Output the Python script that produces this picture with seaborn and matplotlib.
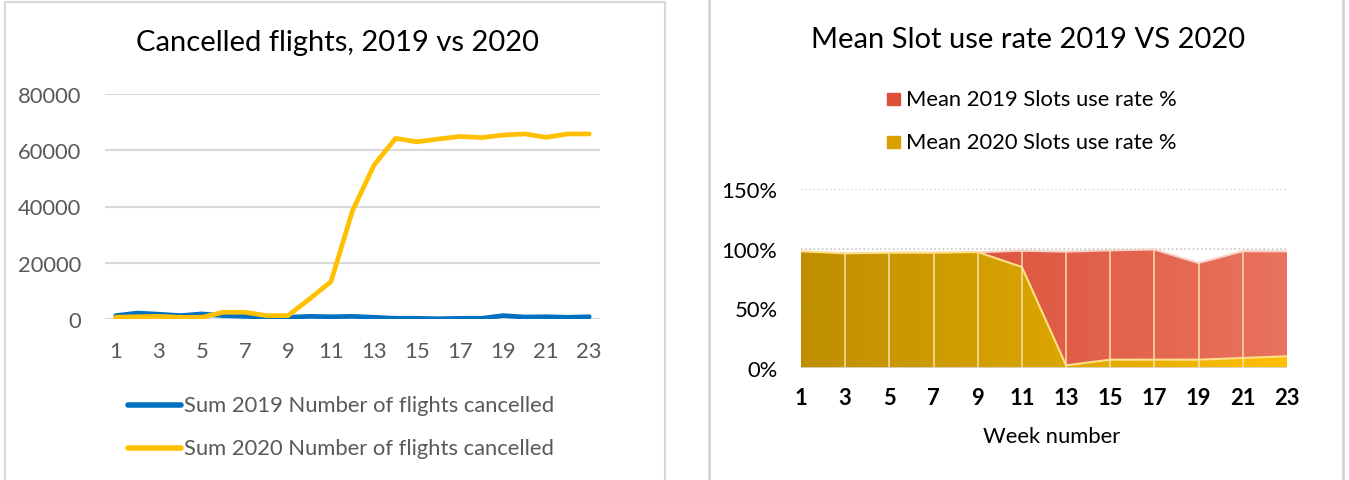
"""
Cancelled flights and slot use rate, 2019 vs 2020 (two Excel-style panels).
"""
import matplotlib.pyplot as plt
import numpy as np
import pandas as pd
import seaborn as sns
from matplotlib.colors import LinearSegmentedColormap
from matplotlib.patches import Rectangle
from matplotlib.ticker import FuncFormatter

# ---- data -------------------------------------------------------------
weeks = list(range(1, 24))
cancel_2019 = [1200, 2100, 1700, 1200, 1800, 1200, 950, 600, 600, 950, 800,
               950, 600, 240, 240, 100, 240, 240, 1200, 700, 800, 600, 800]
cancel_2020 = [600, 800, 950, 600, 600, 2400, 2400, 1200, 1200, 7100, 13300,
               38500, 54700, 64200, 63000, 64000, 64900, 64500, 65400, 65800,
               64600, 65800, 65800]

slot_weeks = [1, 3, 5, 7, 9, 11, 13, 15, 17, 19, 21, 23]
slot_2019 = [97.5, 96.0, 96.5, 96.5, 97.0, 98.3, 97.5, 98.6, 99.3, 88.0, 97.9, 97.8]
slot_2020 = [97.8, 96.1, 96.6, 96.6, 97.2, 84.6, 2.2, 7.0, 7.0, 7.0, 8.4, 9.8]

left_title = "Cancelled flights, 2019 vs 2020"
right_title = "Mean Slot use rate 2019 VS 2020"
left_labels = ["Sum 2019 Number of flights cancelled",
               "Sum 2020 Number of flights cancelled"]
right_labels = ["Mean 2019 Slots use rate %", "Mean 2020 Slots use rate %"]

sns.set_style("white")
plt.rcParams["font.family"] = ["Lato", "DejaVu Sans"]

W, H = 1349, 481
fig = plt.figure(figsize=(W / 100, H / 100), dpi=100)


def fx(px):
    return px / W


def fy(py):
    return 1 - py / H


# panel borders
border = "#D9D9D9"
fig.add_artist(Rectangle((fx(5), fy(490)), fx(660), fy(3) - fy(490),
                         transform=fig.transFigure, fill=False,
                         ec=border, lw=1.5))
for xpx in (709, 1343):
    fig.add_artist(plt.Line2D([fx(xpx), fx(xpx)], [0, 1],
                              transform=fig.transFigure, color="#D0D0D0", lw=1.8))

# ---- left: line chart -------------------------------------------------
gray = "#595959"
ax1 = fig.add_axes([fx(105), fy(320), fx(600) - fx(105), fy(95) - fy(320)])
df = pd.DataFrame({"week": weeks * 2,
                   "value": cancel_2019 + cancel_2020,
                   "series": [left_labels[0]] * 23 + [left_labels[1]] * 23})
sns.lineplot(data=df, x="week", y="value", hue="series",
             palette=["#0070C0", "#FFC000"], lw=3.4, ax=ax1,
             solid_capstyle="round", legend=False)
ax1.set_xlim(0.5, 23.5)
ax1.set_ylim(0, 80000)
ax1.set_yticks([0, 20000, 40000, 60000, 80000])
ax1.set_xticks(weeks[::2])
ax1.yaxis.grid(True, color="#D9D9D9", lw=1.5)
ax1.set_axisbelow(True)
for s in ax1.spines.values():
    s.set_visible(False)
ax1.tick_params(axis="both", length=0, labelsize=15.8, labelcolor=gray)
ax1.tick_params(axis="y", pad=17)
ax1.tick_params(axis="x", pad=16)
ax1.set_xlabel("")
ax1.set_ylabel("")
fig.text(fx(338), fy(43), left_title, ha="center", va="center",
         fontsize=21, color="black")
for i, (lab, col) in enumerate(zip(left_labels, ["#0070C0", "#FFC000"])):
    ypx = 406 + i * 43
    fig.add_artist(plt.Line2D([fx(128), fx(181)], [fy(ypx), fy(ypx)],
                              transform=fig.transFigure, color=col, lw=4,
                              solid_capstyle="round"))
    fig.text(fx(184), fy(ypx), lab, ha="left", va="center",
             fontsize=15.8, color=gray)

# ---- right: area chart ------------------------------------------------
ax2 = fig.add_axes([fx(801), fy(369), fx(1287) - fx(801), fy(190) - fy(369)])
ax2.set_xlim(1, 23)
ax2.set_ylim(0, 150)
for yv in (100, 150):
    ax2.axhline(yv, color="#C8C8C8", lw=1.2, ls=(0, (1, 1.5)), zorder=0)

red_cmap = LinearSegmentedColormap.from_list("red", ["#D6452C", "#E9735D"])
yel_cmap = LinearSegmentedColormap.from_list("yel", ["#BF8F00", "#D9A400", "#FFC000"])
grad = np.linspace(0, 1, 256).reshape(1, -1)

poly_r = ax2.fill_between(slot_weeks, 0, slot_2019, color="none", lw=0)
img_r = ax2.imshow(grad, extent=[1, 23, 0, 150], aspect="auto",
                   cmap=red_cmap, zorder=1)
img_r.set_clip_path(poly_r.get_paths()[0], transform=ax2.transData)
sns.lineplot(x=slot_weeks, y=slot_2019, color="#F7D3C9", lw=1.5, ax=ax2,
             zorder=2)

poly_y = ax2.fill_between(slot_weeks, 0, slot_2020, color="none", lw=0)
img_y = ax2.imshow(grad, extent=[1, 23, 0, 150], aspect="auto",
                   cmap=yel_cmap, zorder=3)
img_y.set_clip_path(poly_y.get_paths()[0], transform=ax2.transData)
sns.lineplot(x=slot_weeks, y=slot_2020, color="#FFE08A", lw=1.5, ax=ax2,
             zorder=4)

# light drop lines at each category
top = np.maximum(slot_2019, slot_2020)
ax2.vlines(slot_weeks[1:-1], 0, top[1:-1], color="#FBE3B8", lw=1.3,
           alpha=0.8, zorder=5)
ax2.axhline(0, color="#D9D9D9", lw=1.2, zorder=6)

ax2.set_xticks(slot_weeks)
ax2.set_yticks([0, 50, 100, 150])
ax2.yaxis.set_major_formatter(FuncFormatter(lambda v, p: f"{v:.0f}%"))
for s in ax2.spines.values():
    s.set_visible(False)
ax2.tick_params(axis="both", length=0, labelsize=15.8, labelcolor="black")
ax2.tick_params(axis="x", pad=14)
ax2.tick_params(axis="y", pad=17)
for t in ax2.get_xticklabels():
    t.set_fontweight("bold")
ax2.set_xlabel("")
ax2.set_ylabel("")
fig.text(fx(1052), fy(437), "Week number", ha="center", va="center",
         fontsize=15.8, color="black")
fig.text(fx(1028), fy(40), right_title, ha="center", va="center",
         fontsize=21, color="black")
for i, (lab, col) in enumerate(zip(right_labels, ["#DD5038", "#D9A000"])):
    ypx = 100 + i * 43
    fig.add_artist(Rectangle((fx(887), fy(ypx + 6)), fx(13), fy(ypx - 6) - fy(ypx + 6),
                             transform=fig.transFigure, color=col))
    fig.text(fx(906), fy(ypx), lab, ha="left", va="center",
             fontsize=15.8, color="black")

fig.savefig("out.png", dpi=100)
